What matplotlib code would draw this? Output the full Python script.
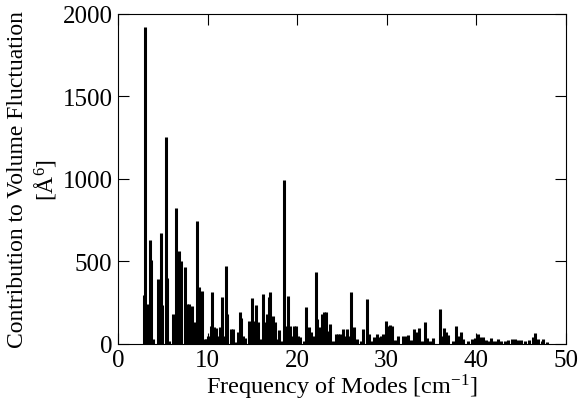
import numpy as np
import matplotlib
matplotlib.use('Agg')
import matplotlib.pyplot as plt

# mode frequencies [cm^-1] and their contribution to volume fluctuation [A^6]
freq = [2.87, 3.01, 3.27, 3.57, 3.72, 3.90, 4.43, 4.58, 4.77, 4.94,
        5.39, 5.52, 5.70, 6.19, 6.50, 6.66, 6.86, 7.06, 7.48, 7.70,
        7.92, 8.26, 8.48, 8.84, 9.00, 9.40, 9.71, 9.82, 10.08, 10.35,
        10.52, 10.71, 11.00, 11.20, 11.38, 11.57, 11.86, 12.05, 12.20, 12.60,
        12.80, 13.06, 13.43, 13.60, 13.74, 13.98, 14.17, 14.65, 14.96, 15.14,
        15.37, 15.59, 15.85, 16.22, 16.40, 16.63, 16.82, 17.00, 17.33, 17.56,
        17.75, 18.00, 18.20, 18.56, 18.75, 18.94, 19.20, 19.39, 19.68, 19.87,
        20.12, 20.31, 20.72, 20.95, 21.17, 21.35, 21.54, 21.80, 22.06, 22.24,
        22.54, 22.80, 23.02, 23.21, 23.40, 23.66, 24.00, 24.30, 24.52, 24.78,
        25.08, 25.33, 25.60, 25.72, 26.04, 26.37, 26.63, 27.12, 27.38, 27.79,
        28.05, 28.31, 28.60, 28.87, 29.13, 29.35, 29.61, 29.88, 30.10, 30.36,
        30.55, 30.90, 31.28, 31.84, 32.10, 32.33, 32.59, 32.90, 33.07, 33.33,
        33.59, 33.90, 34.26, 34.49, 34.82, 35.19, 35.94, 36.13, 36.42, 36.57,
        36.86, 37.42, 37.76, 37.98, 38.28, 38.54, 39.10, 39.47, 39.84, 40.15,
        40.40, 40.77, 41.07, 41.33, 41.63, 41.89, 42.16, 42.38, 42.75, 43.20,
        43.56, 43.94, 44.31, 44.68, 44.98, 45.42, 45.84, 46.28, 46.54, 46.84,
        47.29, 47.46, 47.84]
contrib = [297, 1920, 242, 630, 510, 30, 394, 130, 670, 235,
           1255, 400, 20, 180, 822, 420, 566, 505, 465, 242,
           242, 230, 131, 747, 343, 322, 30, 30, 50, 107,
           313, 101, 95, 50, 101, 283, 50, 475, 182, 91,
           91, 10, 71, 192, 160, 50, 34, 141, 277, 141,
           236, 131, 30, 303, 131, 182, 283, 313, 172, 135,
           30, 87, 20, 993, 111, 289, 107, 50, 111, 111,
           50, 40, 20, 222, 81, 101, 70, 50, 434, 151,
           101, 182, 192, 196, 81, 121, 15, 61, 61, 61,
           91, 50, 91, 50, 313, 101, 30, 15, 91, 273,
           61, 15, 40, 61, 40, 46, 61, 141, 111, 115,
           111, 26, 46, 46, 50, 55, 26, 26, 91, 70,
           99, 15, 135, 34, 20, 34, 212, 46, 95, 75,
           55, 20, 111, 46, 71, 30, 20, 30, 34, 61,
           40, 44, 26, 20, 34, 20, 16, 30, 20, 20,
           26, 30, 30, 26, 24, 20, 26, 40, 65, 30,
           20, 30, 10]

x_ticks = [0, 10, 20, 30, 40, 50]
y_ticks = [0, 500, 1000, 1500, 2000]

plt.rcParams['font.family'] = ['Liberation Serif', 'DejaVu Serif']
plt.rcParams['mathtext.fontset'] = 'stix'

fig = plt.figure(figsize=(5.81, 4.02), dpi=100)
ax = fig.add_axes([0.203, 0.142, 0.771, 0.821])

ax.vlines(freq, 0, contrib, colors='black', linewidth=2.2)

ax.set_xlim(0, 50)
ax.set_ylim(0, 2000)
ax.set_xticks(x_ticks)
ax.set_yticks(y_ticks)
ax.tick_params(direction='in', top=True, right=True, length=8, width=0.8,
               labelsize=18, pad=4)
for s in ax.spines.values():
    s.set_linewidth(0.8)

ax.set_xlabel('Frequency of Modes [cm$^{\\mathregular{-1}}$]', fontsize=17.5, labelpad=0)
ax.set_ylabel('Contribution to Volume Fluctuation\n[$\\mathregular{\\AA^6}$]',
              fontsize=17, linespacing=1.2, labelpad=3)

plt.savefig('out.png', dpi=100)
